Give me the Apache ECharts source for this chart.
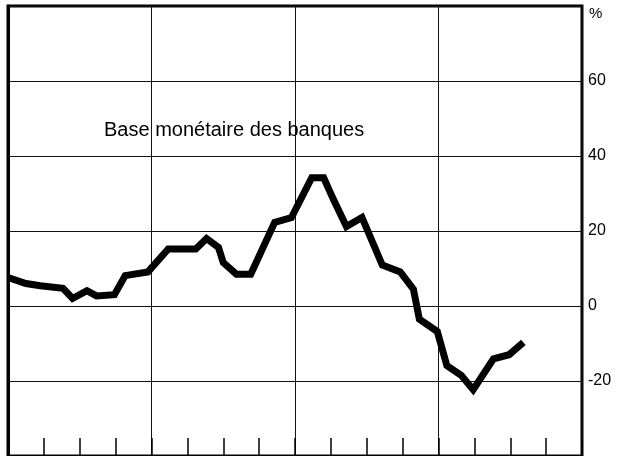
<!DOCTYPE html>
<html>
<head>
<meta charset="utf-8">
<script src="https://cdn.jsdelivr.net/npm/echarts@6/dist/echarts.min.js"></script>
<style>
html,body{margin:0;padding:0;background:#fff;}
#c{width:634px;height:456px;}
</style>
</head>
<body>
<div id="c"></div>
<script>
// months since start of the 4-year window
var months = [0, 1.5, 2.7, 4.6, 5.4, 6.6, 7.4, 8.9, 9.8, 11.7, 13.4, 15.7, 16.6, 17.6, 18.0, 19.1, 20.3, 22.3, 23.7, 25.4, 26.4, 27.2, 28.3, 29.6, 31.3, 32.8, 33.9, 34.4, 35.9, 36.7, 37.9, 38.9, 40.6, 41.9, 43.1];
var baseMonetaire = [7.6, 6.0, 5.4, 4.7, 2.0, 4.1, 2.7, 3.0, 8.1, 9.1, 15.2, 15.2, 18.0, 15.6, 11.6, 8.5, 8.5, 22.3, 23.6, 34.2, 34.2, 28.5, 21.2, 23.6, 10.9, 9.1, 4.5, -3.5, -6.8, -15.9, -18.5, -22.3, -14.1, -13.0, -9.7];
var seriesLabel = 'Base monétaire des banques';
var unitLabel = '%';
var yTicks = [60, 40, 20, 0, -20];

var data = months.map(function (m, i) { return [m, baseMonetaire[i]]; });

var chart = echarts.init(document.getElementById('c'), null, {renderer: 'canvas'});
var font = '"Liberation Sans", Arial, sans-serif';
chart.setOption({
  animation: false,
  backgroundColor: '#fff',
  grid: {left: 8, right: 52, top: 6, height: 452, show: true, borderColor: '#000', borderWidth: 3, backgroundColor: 'transparent'},
  xAxis: [{
    type: 'value', min: 0, max: 48, interval: 12, position: 'bottom',
    axisLine: {show: false}, axisTick: {show: false}, axisLabel: {show: false},
    splitLine: {show: true, lineStyle: {color: '#111', width: 1}}
  }, {
    type: 'value', min: 0, max: 48, interval: 3, position: 'bottom', offset: 0,
    axisLine: {show: false}, axisLabel: {show: false}, splitLine: {show: false},
    axisTick: {show: true, inside: true, length: 18, lineStyle: {color: '#000', width: 1.5}}
  }],
  yAxis: {
    type: 'value', position: 'right', min: -40, max: 80, interval: 20,
    axisLine: {show: true, lineStyle: {color: '#000', width: 3}},
    axisTick: {show: false},
    splitLine: {show: true, lineStyle: {color: '#111', width: 1}},
    axisLabel: {
      margin: 6, color: '#000', fontSize: 16, fontFamily: font,
      formatter: function (v) { return yTicks.indexOf(v) >= 0 ? String(v) : ''; }
    }
  },
  graphic: [
    {type: 'text', left: 589, top: 6, style: {text: unitLabel, fill: '#000', font: '15px ' + font}},
    {type: 'text', left: 104, top: 120, style: {text: seriesLabel, fill: '#000', font: '20px ' + font}}
  ],
  series: [{
    type: 'line', xAxisIndex: 0, data: data, showSymbol: false, smooth: false,
    lineStyle: {color: '#000', width: 7, join: 'miter'}
  }]
});
</script>
</body>
</html>
